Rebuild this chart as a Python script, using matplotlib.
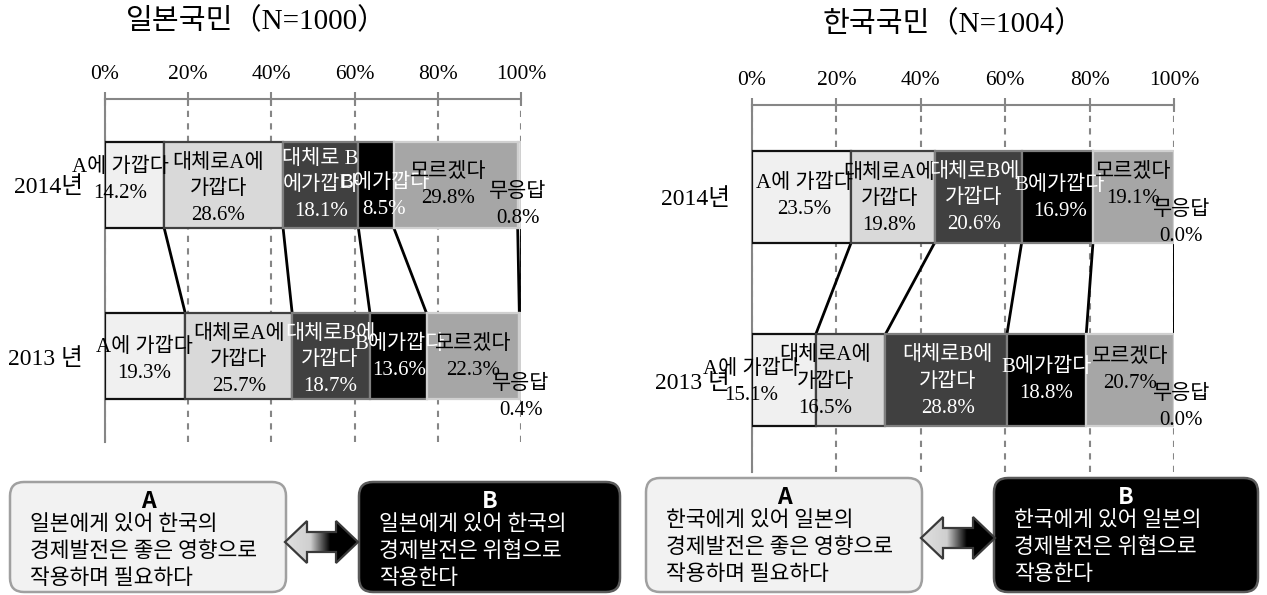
import numpy as np
import matplotlib.pyplot as plt
from matplotlib.patches import FancyBboxPatch, Polygon
from matplotlib.colors import LinearSegmentedColormap

# survey answers, left to right in each bar
categories = ['A에 가깝다', '대체로A에 가깝다', '대체로B에 가깝다', 'B에가깝다', '모르겠다', '무응답']
years = ['2014년', '2013 년']
tick_vals = [0, 20, 40, 60, 80, 100]

jp_2014 = [14.2, 28.6, 18.1, 8.5, 29.8, 0.8]
jp_2013 = [19.3, 25.7, 18.7, 13.6, 22.3, 0.4]
kr_2014 = [23.5, 19.8, 20.6, 16.9, 19.1, 0.0]
kr_2013 = [15.1, 16.5, 28.8, 18.8, 20.7, 0.0]

jp_title = '일본국민（N=1000）'
kr_title = '한국국민（N=1004）'

jp_box_a = ['일본에게 있어 한국의', '경제발전은 좋은 영향으로', '작용하며 필요하다']
jp_box_b = ['일본에게 있어 한국의', '경제발전은 위협으로', '작용한다']
kr_box_a = ['한국에게 있어 일본의', '경제발전은 좋은 영향으로', '작용하며 필요하다']
kr_box_b = ['한국에게 있어 일본의', '경제발전은 위협으로', '작용한다']

# styling
fills = ['#f0f0f0', '#d9d9d9', '#404040', '#000000', '#a6a6a6', '#e0e0e0']
edges = ['#111111', '#404040', '#7f7f7f', '#7f7f7f', '#d0d0d0', '#d0d0d0']
txt_col = ['black', 'black', 'white', 'white', 'black', 'black']
wrap = ['A에 가깝다', '대체로A에\n가깝다', '대체로B에\n가깝다', 'B에가깝다', '모르겠다', '무응답']
wrap_jp14 = ['A에 가깝다', '대체로A에\n가깝다', '대체로 B\n에가깝다', 'B에가깝다', '모르겠다', '무응답']

# label nudges: dx in %, dy in bar units (rows: 2014, 2013)
jp_dx = [[-3.5, -1.3, 0, 2, -1.8, -0.3], [-0.25, 0, -0.25, 0.2, 0, 0.2]]
jp_dy = [[-0.026, 0.026, 0.003, 0.067, 0.003, 0.12], [0.026, 0.026, 0.026, 0.009, 0.009, 0.24]]
kr_dx = [[0.6, -0.9, -1.0, 0.6, 0, 1.8], [-7.8, -6, 0.4, 0, 0, 1.8]]
kr_dy = [[0, 0.016, 0.01, 0.008, -0.06, 0.148], [0.01, 0.01, 0.01, 0, -0.055, 0.148]]

SERIF = ['Liberation Serif', 'Noto Sans CJK KR']
SANS = ['Noto Sans CJK KR', 'DejaVu Sans']
GRAY = '#868686'

W, H = 1267, 595
fig = plt.figure(figsize=(W / 100, H / 100), dpi=100)

bg = fig.add_axes([0, 0, 1, 1])
bg.set_xlim(0, W)
bg.set_ylim(H, 0)
bg.axis('off')


def panel(rect, v14, v13, names, dx, dy):
    ax = fig.add_axes(rect)
    ax.set_facecolor('none')
    rows = [v14, v13]
    for r, vals in enumerate(rows):
        vals = np.array(vals)
        lefts = np.concatenate([[0], np.cumsum(vals)[:-1]])
        ax.barh([r] * len(vals), vals, left=lefts, height=0.5, color=fills,
                edgecolor=edges, linewidth=1.6, zorder=3)
        for i in range(len(vals)):
            ax.text(lefts[i] + vals[i] / 2 + dx[r][i], r + dy[r][i],
                    f'{names[r][i]}\n{vals[i]:.1f}%', ha='center', va='center',
                    color=txt_col[i], fontsize=15, family=SERIF,
                    linespacing=1.5, zorder=5)
    # series lines between the two bars
    for a, b in zip(np.cumsum(v14), np.cumsum(v13)):
        ax.plot([a, b], [0.25, 0.75], color='black', lw=2, zorder=2)

    ax.set_xlim(0, 100)
    ax.set_ylim(1.5, -0.5)
    ax.xaxis.tick_top()
    ax.set_xticks(tick_vals)
    ax.set_xticklabels([f'{t}%' for t in tick_vals], family=SERIF, fontsize=15.5)
    ax.tick_params(axis='x', direction='inout', length=10, width=1.5, color=GRAY, pad=6)
    ax.set_yticks([0, 1])
    ax.set_yticklabels(years, family=SERIF, fontsize=17)
    ax.tick_params(axis='y', length=0, pad=16)
    ax.xaxis.grid(True, linestyle=(0, (3, 3)), color=GRAY, lw=1.5)
    ax.set_axisbelow(True)
    for s in ['right', 'bottom']:
        ax.spines[s].set_visible(False)
    for s in ['top', 'left']:
        ax.spines[s].set_color(GRAY)
        ax.spines[s].set_linewidth(1.5)
    return ax


def to_rect(x0, x1, y0, y1):
    return [x0 / W, 1 - y1 / H, (x1 - x0) / W, (y1 - y0) / H]


panel(to_rect(105, 521, 99, 442), jp_2014, jp_2013, [wrap_jp14, wrap], jp_dx, jp_dy)
panel(to_rect(752, 1174, 105, 472), kr_2014, kr_2013, [wrap, wrap], kr_dx, kr_dy)

bg.text(257, 21, jp_title, ha='center', va='center', fontsize=21, family=SERIF)
bg.text(953, 24, kr_title, ha='center', va='center', fontsize=21, family=SERIF)

grad = LinearSegmentedColormap.from_list(
    'arrow', [(0, '#e0e0e0'), (0.35, '#cfcfcf'), (0.62, '#000000'), (1, '#000000')])


def text_box(x, y, w, h, head, lines, dark):
    face = '#000000' if dark else '#f2f2f2'
    edge = '#5a5a5a' if dark else '#a0a0a0'
    col = 'white' if dark else 'black'
    bg.add_patch(FancyBboxPatch((x, y), w, h, boxstyle='round,pad=0,rounding_size=14',
                                facecolor=face, edgecolor=edge, lw=1.8))
    bg.text(x + w / 2, y + 20, head, ha='center', va='center', fontsize=16.5,
            fontweight='bold', family=SANS, color=col)
    for k, line in enumerate(lines):
        bg.text(x + 20, y + 42 + 27 * k, line, ha='left', va='center',
                fontsize=15.5, family=SANS, color=col)


def double_arrow(x0, x1, yc, hh=21, sh=10, hl=22):
    pts = [(x0, yc), (x0 + hl, yc - hh), (x0 + hl, yc - sh), (x1 - hl, yc - sh),
           (x1 - hl, yc - hh), (x1, yc), (x1 - hl, yc + hh), (x1 - hl, yc + sh),
           (x0 + hl, yc + sh), (x0 + hl, yc + hh)]
    poly = Polygon(pts, closed=True, facecolor='none', edgecolor='#3a3a3a', lw=1.6, zorder=4)
    img = bg.imshow(np.linspace(0, 1, 256).reshape(1, -1), cmap=grad, aspect='auto',
                    extent=[x0, x1, yc + hh, yc - hh], zorder=3)
    bg.add_patch(poly)
    img.set_clip_path(poly)


text_box(10, 482, 276, 110, 'A', jp_box_a, False)
text_box(359, 482, 261, 110, 'B', jp_box_b, True)
double_arrow(285, 358, 542)

text_box(646, 478, 276, 114, 'A', kr_box_a, False)
text_box(994, 478, 264, 114, 'B', kr_box_b, True)
double_arrow(921, 995, 538)

bg.set_xlim(0, W)
bg.set_ylim(H, 0)

fig.savefig('out.png', dpi=100)
